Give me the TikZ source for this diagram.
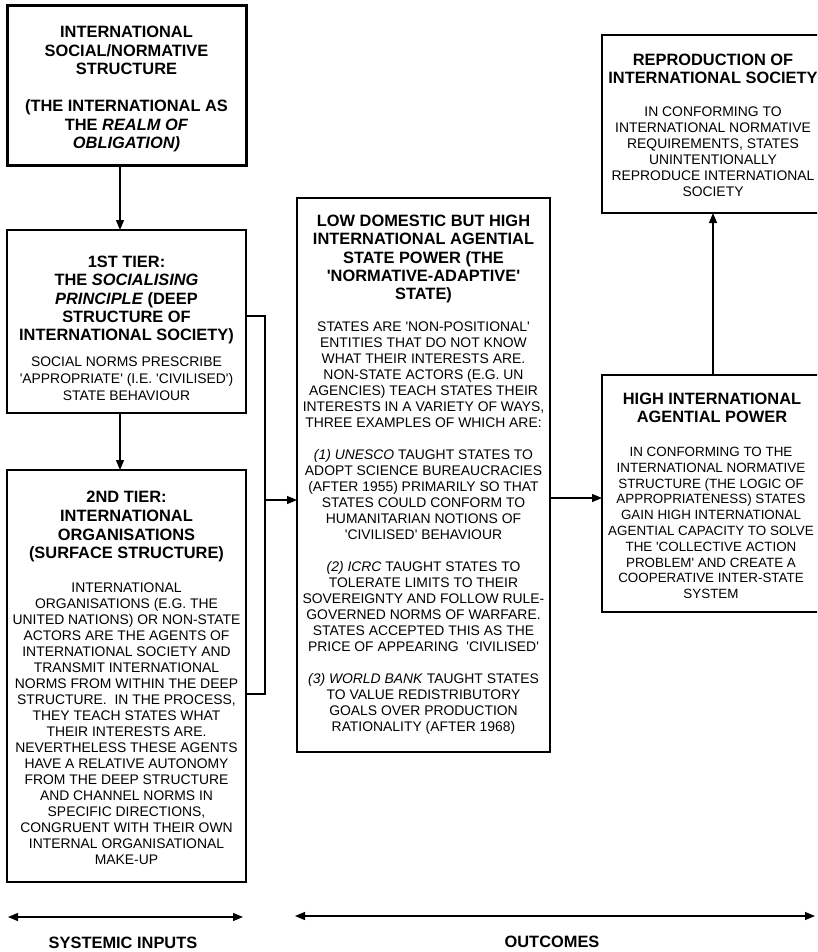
\documentclass[tikz,border=0pt]{standalone}
\usepackage{fontspec}
\setmainfont{Liberation Sans}[Ligatures=TeXOff]
\usetikzlibrary{arrows.meta}
\begin{document}
\begin{tikzpicture}[x=1pt,y=-1pt,
  box/.style={draw, line width=1.2pt, inner sep=0pt, outer sep=0pt, anchor=north west},
  ttl/.style={font=\fontsize{16.4}{18.4}\selectfont\bfseries, align=center, anchor=north, inner sep=0pt},
  bdy/.style={font=\fontsize{13.9}{16}\selectfont, align=center, anchor=north, inner sep=0pt},
  tip/.tip={Triangle[length=10pt,width=8pt]},
  arr/.style={line width=1.2pt, -tip},
  dbl/.style={line width=1.2pt, tip-tip},
  ln/.style={line width=1.2pt}]
\clip (0,0) rectangle (817,952);
% boxes
\node[box, line width=3pt, minimum width=239pt, minimum height=160pt] (top) at (7,6) {};
\node[box, minimum width=239pt, minimum height=183pt] (t1) at (7,230) {};
\node[box, minimum width=239pt, minimum height=412pt] (t2) at (7,470) {};
\node[box, minimum width=253pt, minimum height=554pt] (mid) at (297,198) {};
\node[box, minimum width=222pt, minimum height=178pt] (repro) at (602,35) {};
\node[box, minimum width=222pt, minimum height=237pt] (high) at (602,375) {};
% texts
\node[ttl, font=\fontsize{16.4}{18.5}\selectfont\bfseries] (toptxt) at (126.5,26) {INTERNATIONAL\\SOCIAL/NORMATIVE\\STRUCTURE\\[18.5pt](THE INTERNATIONAL AS\\THE \textit{REALM OF}\\\textit{OBLIGATION)}};
\node[ttl, font=\fontsize{16.4}{18.3}\selectfont\bfseries] (t1ttl) at (126.5,256) {1ST TIER:\\THE \textit{SOCIALISING}\\\textit{PRINCIPLE} (DEEP\\STRUCTURE OF\\INTERNATIONAL SOCIETY)};
\node[bdy, font=\fontsize{13.9}{17}\selectfont] (t1bdy) at (126.5,357) {SOCIAL NORMS PRESCRIBE\\'APPROPRIATE' (I.E. 'CIVILISED')\\STATE BEHAVIOUR};
\node[ttl, font=\fontsize{16.4}{18.7}\selectfont\bfseries] (t2ttl) at (126.5,491) {2ND TIER:\\INTERNATIONAL\\ORGANISATIONS\\(SURFACE STRUCTURE)};
\node[bdy] (t2bdy) at (126.5,583) {INTERNATIONAL\\ORGANISATIONS (E.G. THE\\UNITED NATIONS) OR NON-STATE\\ACTORS ARE THE AGENTS OF\\INTERNATIONAL SOCIETY AND\\TRANSMIT INTERNATIONAL\\NORMS FROM WITHIN THE DEEP\\STRUCTURE.\ \ IN THE PROCESS,\\THEY TEACH STATES WHAT\\THEIR INTERESTS ARE.\\NEVERTHELESS THESE AGENTS\\HAVE A RELATIVE AUTONOMY\\FROM THE DEEP STRUCTURE\\AND CHANNEL NORMS IN\\SPECIFIC DIRECTIONS,\\CONGRUENT WITH THEIR OWN\\INTERNAL ORGANISATIONAL\\MAKE-UP};
\node[ttl, font=\fontsize{16.4}{18.2}\selectfont\bfseries] (midttl) at (423.5,215) {LOW DOMESTIC BUT HIGH\\INTERNATIONAL AGENTIAL\\STATE POWER (THE\\'NORMATIVE-ADAPTIVE'\\STATE)};
\node[bdy] (midbdy) at (423.5,322) {STATES ARE 'NON-POSITIONAL'\\ENTITIES THAT DO NOT KNOW\\WHAT THEIR INTERESTS ARE.\\NON-STATE ACTORS (E.G. UN\\AGENCIES) TEACH STATES THEIR\\INTERESTS IN A VARIETY OF WAYS,\\THREE EXAMPLES OF WHICH ARE:\\[16pt]\textit{(1) UNESCO} TAUGHT STATES TO\\ADOPT SCIENCE BUREAUCRACIES\\(AFTER 1955) PRIMARILY SO THAT\\STATES COULD CONFORM TO\\HUMANITARIAN NOTIONS OF\\'CIVILISED' BEHAVIOUR\\[16pt]\textit{(2) ICRC} TAUGHT STATES TO\\TOLERATE LIMITS TO THEIR\\SOVEREIGNTY AND FOLLOW RULE-\\GOVERNED NORMS OF WARFARE.\\STATES ACCEPTED THIS AS THE\\PRICE OF APPEARING\ \ 'CIVILISED'\\[16pt]\textit{(3) WORLD BANK} TAUGHT STATES\\TO VALUE REDISTRIBUTORY\\GOALS OVER PRODUCTION\\RATIONALITY (AFTER 1968)};
\node[ttl, font=\fontsize{16.4}{18}\selectfont\bfseries] (reprottl) at (713,54) {REPRODUCTION OF\\INTERNATIONAL SOCIETY};
\node[bdy] (reprobdy) at (713,107) {IN CONFORMING TO\\INTERNATIONAL NORMATIVE\\REQUIREMENTS, STATES\\UNINTENTIONALLY\\REPRODUCE INTERNATIONAL\\SOCIETY};
\node[ttl, font=\fontsize{16.4}{18}\selectfont\bfseries] (highttl) at (712,393) {HIGH INTERNATIONAL\\AGENTIAL POWER};
\node[bdy, font=\fontsize{13.4}{15.8}\selectfont] (highbdy) at (711,447) {IN CONFORMING TO THE\\INTERNATIONAL NORMATIVE\\STRUCTURE (THE LOGIC OF\\APPROPRIATENESS) STATES\\GAIN HIGH INTERNATIONAL\\AGENTIAL CAPACITY TO SOLVE\\THE 'COLLECTIVE ACTION\\PROBLEM' AND CREATE A\\COOPERATIVE INTER-STATE\\SYSTEM};
% connectors
\coordinate (ax) at (120,0);
\draw[arr] (top.south -| ax) -- (t1.north -| ax);
\draw[arr] (t1.south -| ax) -- (t2.north -| ax);
\coordinate (bus) at (265,500);
\coordinate (b1) at (265,316);
\coordinate (b2) at (265,694);
\draw[ln] (t1.east |- b1) -- (b1) -- (b2) -- (t2.east |- b2);
\draw[arr] (bus) -- (bus -| mid.west);
\coordinate (m1) at (0,498);
\draw[arr] (mid.east |- m1) -- (high.west |- m1);
\coordinate (hx) at (713,0);
\draw[arr] (high.north -| hx) -- (repro.south -| hx);
% bottom
\coordinate (sl) at (8,917);
\coordinate (sr) at (243,917);
\draw[dbl] (sl) -- (sr);
\node[ttl, anchor=center] (sys) at (123,943) {SYSTEMIC INPUTS};
\coordinate (ol) at (295,916);
\coordinate (or) at (815,916);
\draw[dbl] (ol) -- (or);
\node[ttl, anchor=center] (out) at (552,942) {OUTCOMES};
\end{tikzpicture}
\end{document}
